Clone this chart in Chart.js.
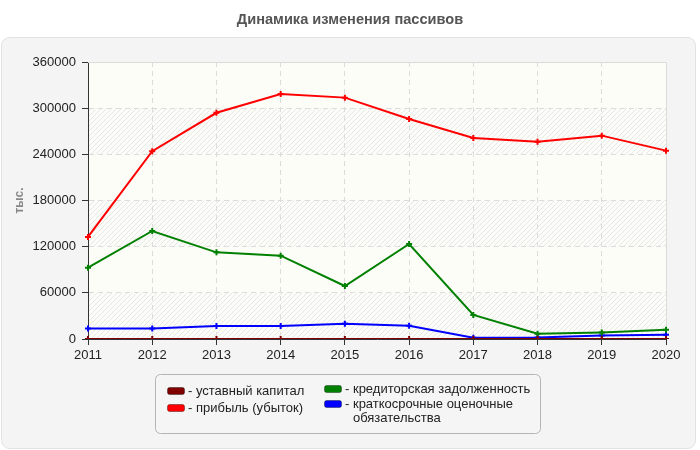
<!DOCTYPE html>
<html>
<head>
<meta charset="utf-8">
<script src="https://cdn.jsdelivr.net/npm/chart.js@4.4.1/dist/chart.umd.min.js"></script>
<style>
  html, body { margin: 0; padding: 0; background: #fff; }
  #wrap { width: 700px; height: 450px; }
</style>
</head>
<body>
<div id="wrap"><canvas id="chart" width="700" height="450"></canvas></div>
<script>
const years = ["2011", "2012", "2013", "2014", "2015", "2016", "2017", "2018", "2019", "2020"];
const shareCapital = [10, 10, 10, 10, 10, 10, 10, 10, 10, 10];
const profit = [132600, 244000, 294000, 318500, 313700, 286000, 261300, 256500, 264300, 244800];
const payables = [92700, 140400, 112600, 108300, 68900, 123500, 31200, 6900, 8600, 12100];
const provisions = [13800, 13800, 16900, 16900, 19900, 17300, 1700, 2100, 4700, 5600];
const yTicks = [0, 60000, 120000, 180000, 240000, 300000, 360000];

const seriesNames = [
  "уставный капитал",
  "прибыль (убыток)",
  "кредиторская задолженность",
  "краткосрочные оценочные обязательства"
];
const seriesColors = ["#800000", "#ff0000", "#008000", "#0000ff"];

const FONT = '"Liberation Sans", Arial, sans-serif';
Chart.defaults.font.family = FONT;
Chart.defaults.font.size = 13;
Chart.defaults.color = "#222";

// hatch pattern for every other band of the plot
function makeHatch() {
  const c = document.createElement("canvas");
  c.width = 5; c.height = 5;
  const g = c.getContext("2d");
  g.fillStyle = "#fcfcf8";
  g.fillRect(0, 0, 5, 5);
  g.strokeStyle = "#e7e7e5";
  g.lineWidth = 1;
  g.beginPath();
  g.moveTo(-1, 6); g.lineTo(6, -1);
  g.moveTo(-1, 1); g.lineTo(1, -1);
  g.moveTo(4, 6); g.lineTo(6, 4);
  g.stroke();
  return c;
}

const framePlugin = {
  id: "frame",
  beforeDraw(chart) {
    const ctx = chart.ctx;
    const { left, right, top, bottom } = chart.chartArea;
    ctx.save();
    ctx.fillStyle = "#fff";
    ctx.fillRect(0, 0, chart.width, chart.height);
    // panel
    ctx.beginPath();
    ctx.roundRect(1.5, 37.5, 694, 411, 8);
    ctx.fillStyle = "#f4f4f4";
    ctx.fill();
    ctx.strokeStyle = "#e2e2e2";
    ctx.lineWidth = 1;
    ctx.stroke();
    // title
    ctx.fillStyle = "#555";
    ctx.font = "bold 14.6px " + FONT;
    ctx.textAlign = "center";
    ctx.textBaseline = "middle";
    ctx.fillText("Динамика изменения пассивов", 350, 20);
    // plot bands
    ctx.fillStyle = "#fdfdf7";
    ctx.fillRect(left, top, right - left, bottom - top);
    const pattern = ctx.createPattern(makeHatch(), "repeat");
    const ys = chart.scales.y;
    for (let i = 0; i < yTicks.length - 1; i += 2) {
      const y1 = ys.getPixelForValue(yTicks[i]);
      const y2 = ys.getPixelForValue(yTicks[i + 1]);
      ctx.fillStyle = pattern;
      ctx.fillRect(left, y2, right - left, y1 - y2);
    }
    ctx.restore();
  },
  beforeDatasetsDraw(chart) {
    const ctx = chart.ctx;
    const { left, right, top, bottom } = chart.chartArea;
    ctx.save();
    ctx.strokeStyle = "#dcdcdc";
    ctx.lineWidth = 1;
    ctx.beginPath();
    ctx.moveTo(left, top + 0.5);
    ctx.lineTo(right + 0.5, top + 0.5);
    ctx.lineTo(right + 0.5, bottom);
    ctx.stroke();
    ctx.restore();
  },
  afterDraw(chart) {
    const ctx = chart.ctx;
    ctx.save();
    // legend box
    ctx.beginPath();
    ctx.roundRect(155.5, 374.5, 385, 59, 5);
    ctx.fillStyle = "#f5f5f5";
    ctx.fill();
    ctx.strokeStyle = "#b4b4b4";
    ctx.stroke();

    const itemPos = [[167, 391], [167, 408], [324, 389], [324, 404]];
    ctx.font = "13px " + FONT;
    ctx.textBaseline = "middle";
    ctx.textAlign = "left";
    const dashW = ctx.measureText("- ").width;
    chart.data.datasets.forEach((ds, i) => {
      const [x, y] = itemPos[i];
      ctx.beginPath();
      ctx.roundRect(x + 0.5, y - 3.5, 17, 7, 2);
      ctx.fillStyle = ds.borderColor;
      ctx.fill();
      ctx.strokeStyle = "rgba(0,0,0,0.35)";
      ctx.stroke();
      ctx.fillStyle = "#222";
      ctx.fillText("-", x + 21, y);
      const tx = x + 21 + dashW;
      const words = ds.label.split(" ");
      let line = "";
      let ly = y;
      words.forEach((w) => {
        const test = line ? line + " " + w : w;
        if (line && ctx.measureText(test).width > 185) {
          ctx.fillText(line, tx, ly);
          line = w;
          ly += 14;
        } else {
          line = test;
        }
      });
      ctx.fillText(line, tx, ly);
    });
    ctx.restore();
  }
};

const seriesData = [shareCapital, profit, payables, provisions];

new Chart(document.getElementById("chart"), {
  type: "line",
  data: {
    labels: years,
    datasets: seriesData.map((d, i) => ({
      label: seriesNames[i],
      data: d,
      borderColor: seriesColors[i],
      backgroundColor: seriesColors[i],
      borderWidth: 2,
      pointStyle: "cross",
      pointRadius: 3,
      pointBorderWidth: 2,
      tension: 0,
      fill: false
    }))
  },
  options: {
    responsive: false,
    animation: false,
    layout: { padding: { left: 0, top: 62, right: 34, bottom: 89 } },
    plugins: {
      legend: { display: false },
      tooltip: { enabled: false },
      title: { display: false }
    },
    scales: {
      x: {
        type: "category",
        offset: false,
        afterFit: (s) => { s.height = 22; },
        grid: {
          color: "#dcdcdc",
          tickColor: "#333",
          tickLength: 6,
          tickBorderDash: []
        },
        border: { color: "#333", dash: [5, 4] },
        ticks: { padding: 3, color: "#222", maxRotation: 0 }
      },
      y: {
        min: 0,
        max: 360000,
        afterFit: (s) => { s.width = 88; },
        afterBuildTicks: (s) => { s.ticks = yTicks.map((v) => ({ value: v })); },
        grid: {
          color: "#dcdcdc",
          tickColor: "#333",
          tickLength: 6,
          tickBorderDash: []
        },
        border: { color: "#333", dash: [5, 4] },
        ticks: { padding: 6, color: "#222", callback: (v) => String(v) },
        title: {
          display: true,
          text: "тыс.",
          color: "#888",
          font: { size: 12, weight: "bold" },
          padding: { top: 12, bottom: 0 }
        }
      }
    }
  },
  plugins: [framePlugin]
});
</script>
</body>
</html>
